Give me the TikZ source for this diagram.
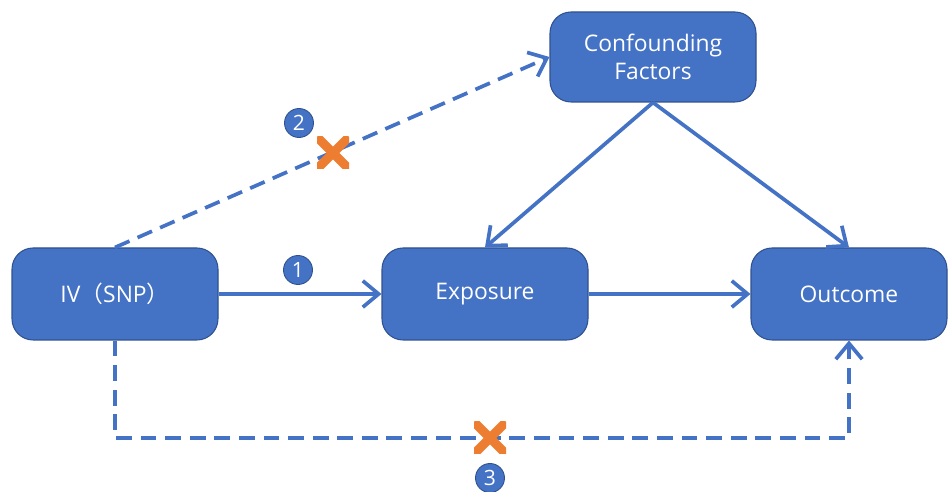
\documentclass[tikz,border=0pt]{standalone}
\usepackage{fontspec}
\setmainfont{Open Sans}
\newfontfamily\cjk{Noto Sans CJK SC}
\usetikzlibrary{arrows.meta}
\definecolor{boxblue}{HTML}{4472C4}
\definecolor{boxedge}{HTML}{2F528F}
\definecolor{crossorange}{HTML}{ED7D31}
\tikzset{
    box/.style={rectangle, rounded corners=12, fill=boxblue, draw=boxedge, line width=0.6pt,
        minimum width=206*0.02cm, minimum height=92*0.02cm, align=center,
        text=white, font=\fontsize{13}{16}\selectfont},
    link/.style={boxblue, line width=2.1pt, -{Straight Barb[length=9pt,width=15pt,line width=2.1pt]}},
    weak/.style={link, dash pattern=on 9pt off 5pt},
    num/.style={circle, fill=boxblue, draw=boxedge, line width=0.5pt, inner sep=0pt,
        minimum size=29*0.02cm, text=white, font=\fontsize{12}{13}\selectfont},
    cross/.style={rectangle, minimum size=32*0.02cm, inner sep=0pt,
        path picture={
            \draw[crossorange, line width=5.2pt]
                (path picture bounding box.north west) -- (path picture bounding box.south east)
                (path picture bounding box.south west) -- (path picture bounding box.north east);
        }},
}
\begin{document}
\begin{tikzpicture}[x=0.02cm, y=-0.02cm]
        \useasboundingbox (0,0) rectangle (948,492);
        % boxes
            \node[box] (iv) at (115,294) {IV{\cjk（}SNP{\cjk）}};
            \node[box] (exp) at (485,294) {Exposure};
            \node[box, minimum width=196*0.02cm] (out) at (849,294) {Outcome};
            \node[box, minimum height=90*0.02cm] (cf) at (653,57) {Confounding\\Factors};
            \coordinate (low) at (0,438);
        % paths
            \draw[link] (iv) -- (exp);
            \draw[link] (exp) -- (out);
            \foreach \t in {exp,out}{
                \draw[link] (cf.south) -- (\t.north);
            }
            \draw[weak] (iv.north) -- (cf.west);
            \draw[weak] (iv.south) |- (out.south |- low) -- (out.south);
        % marks
            \node[cross] (x2) at (333,153) {};
            \node[cross] (x3) at (490,438) {};
            \foreach \n/\x/\y in {1/298/270,2/299/123,3/490/478}{
                \node[num] (n\n) at (\x,\y) {\n};
            }
\end{tikzpicture}
\end{document}
